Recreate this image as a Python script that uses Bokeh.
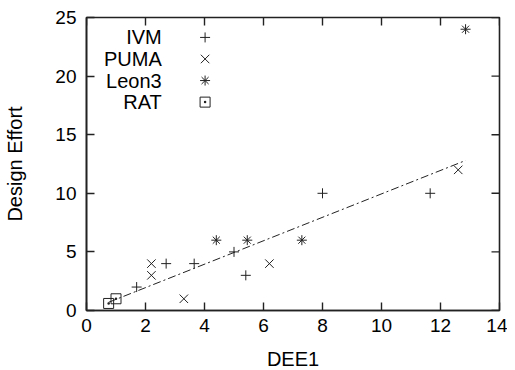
from bokeh.plotting import figure
from bokeh.models import Range1d
from bokeh.core.properties import value
from bokeh.embed import file_html
from bokeh.resources import INLINE

# Data
ivm_x = [1.7, 2.7, 3.65, 5.0, 5.4, 8.0, 11.65]
ivm_y = [2, 4, 4, 5, 3, 10, 10]
puma_x = [2.2, 2.2, 3.3, 6.2, 12.6]
puma_y = [4, 3, 1, 4, 12]
leon_x = [4.4, 5.45, 7.3, 12.85]
leon_y = [6, 6, 6, 24]
rat_x = [0.75, 1.0]
rat_y = [0.6, 1.0]
fit_x = [0.75, 12.85]
fit_y = [0.7, 12.8]

series_names = ["IVM", "PUMA", "Leon3", "RAT"]
series_markers = ["cross", "x", "asterisk", "square_dot"]
series_sizes = [10, 12, 10, 10]
x_ticks = [0, 2, 4, 6, 8, 10, 12, 14]
y_ticks = [0, 5, 10, 15, 20, 25]

FONT = "Liberation Sans"
INK = "#222222"
X0, X1, Y0, Y1 = 0, 14, 0, 25
FW, FH = 413, 293
TICK = 8  # px

p = figure(frame_width=FW, frame_height=FH, output_backend="svg",
           toolbar_location=None, x_range=Range1d(X0, X1), y_range=Range1d(Y0, Y1),
           min_border_left=86, min_border_right=8, min_border_top=17,
           min_border_bottom=58, background_fill_color="white",
           border_fill_color="white")
p.grid.visible = False
p.outline_line_color = INK
p.outline_line_width = 1.6

for ax in (p.xaxis[0], p.yaxis[0]):
    ax.major_tick_in = TICK
    ax.major_tick_out = 0
    ax.minor_tick_in = 0
    ax.minor_tick_out = 0
    ax.axis_line_color = INK
    ax.axis_line_width = 1.6
    ax.major_tick_line_color = INK
    ax.major_tick_line_width = 1.4
    ax.major_label_text_font = FONT
    ax.major_label_text_font_size = "19px"
    ax.major_label_text_color = "black"
    ax.axis_label_text_font = FONT
    ax.axis_label_text_font_size = "20px"
    ax.axis_label_text_font_style = "normal"
    ax.axis_label_text_color = "black"

p.xaxis.ticker = x_ticks
p.yaxis.ticker = y_ticks
p.xaxis.axis_label = "DEE1"
p.yaxis.axis_label = "Design Effort"
p.xaxis.major_label_standoff = 8
p.yaxis.major_label_standoff = 10
p.xaxis.axis_label_standoff = 13
p.yaxis.axis_label_standoff = 26

# mirrored inward ticks on the top and right edges
tx = TICK * (X1 - X0) / FW
ty = TICK * (Y1 - Y0) / FH
p.segment(x0=x_ticks, y0=[Y1] * len(x_ticks), x1=x_ticks, y1=[Y1 - ty] * len(x_ticks),
          line_color=INK, line_width=1.4)
p.segment(x0=[X1] * len(y_ticks), y0=y_ticks, x1=[X1 - tx] * len(y_ticks), y1=y_ticks,
          line_color=INK, line_width=1.4)

# fit line
p.line(fit_x, fit_y, line_color=INK, line_width=1, line_dash="8 3 2 3")

# data markers
data = [(ivm_x, ivm_y), (puma_x, puma_y), (leon_x, leon_y), (rat_x, rat_y)]
for (xs, ys), mk, sz in zip(data, series_markers, series_sizes):
    p.scatter(xs, ys, marker=mk, size=sz, line_color=INK, fill_color=None,
              line_width=1.0)

# legend (text right-aligned, symbol to its right)
leg_text_x = 2.55
leg_mark_x = 4.02
leg_y0 = 23.3
leg_dy = 1.84
leg_ys = [leg_y0 - i * leg_dy for i in range(len(series_names))]
p.text(x=[leg_text_x] * len(series_names), y=leg_ys, text=series_names,
       text_align="right", text_baseline="middle", text_font=value(FONT),
       text_font_size="20px", text_color="black")
for yy, mk, sz in zip(leg_ys, series_markers, series_sizes):
    p.scatter([leg_mark_x], [yy], marker=mk, size=sz, line_color=INK,
              fill_color=None, line_width=1.0)

open("out.html", "w").write(file_html(p, INLINE))
